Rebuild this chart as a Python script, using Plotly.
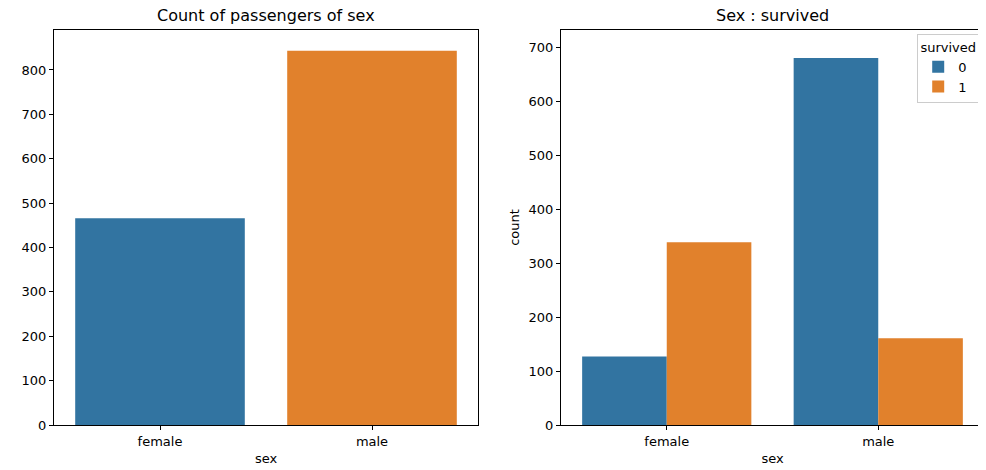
import plotly.graph_objects as go

sexes = ["female", "male"]
counts = [466, 843]
died = [127, 681]
survived = [339, 161]

blue = "#3274a1"
orange = "#e1812c"

fig = go.Figure()
fig.add_trace(go.Bar(x=sexes, y=counts, marker=dict(color=[blue, orange], line_width=0),
                     width=0.8, showlegend=False, xaxis="x", yaxis="y"))
fig.add_trace(go.Bar(x=sexes, y=died, name="0", marker=dict(color=blue, line_width=0),
                     xaxis="x2", yaxis="y2"))
fig.add_trace(go.Bar(x=sexes, y=survived, name="1", marker=dict(color=orange, line_width=0),
                     xaxis="x2", yaxis="y2"))

ax = dict(showline=True, linecolor="black", mirror=True, ticks="outside",
          ticklen=4, tickcolor="black", showgrid=False, zeroline=False,
          automargin=False, tickfont=dict(size=13, color="black"))
yb, yt = 1 - 417 / 470, 1 - 22 / 470

fig.update_layout(
    width=986, height=470, margin=dict(l=0, r=0, t=0, b=0, autoexpand=False),
    plot_bgcolor="white", paper_bgcolor="white",
    font=dict(family="DejaVu Sans", color="black", size=13),
    barmode="group", bargap=0.2, bargroupgap=0,
    xaxis=dict(ax, domain=[46 / 986, 470 / 986], anchor="y",
               title=dict(text="sex", standoff=6, font=dict(size=13))),
    yaxis=dict(ax, domain=[yb, yt], anchor="x", range=[0, 890],
               tickvals=[0, 100, 200, 300, 400, 500, 600, 700, 800]),
    xaxis2=dict(ax, domain=[553 / 986, 976 / 986], anchor="y2",
                title=dict(text="sex", standoff=6, font=dict(size=13))),
    yaxis2=dict(ax, domain=[yb, yt], anchor="x2", range=[0, 733],
                dtick=100, title=dict(text="count", standoff=6, font=dict(size=13))),
    legend=dict(title=dict(text="survived", side="top center", font=dict(size=13)),
                x=0.985, xanchor="right", y=0.945, yanchor="top",
                bordercolor="#cccccc", borderwidth=1,
                bgcolor="rgba(255,255,255,0.8)", font=dict(size=13)),
    annotations=[
        dict(text="Count of passengers of sex", x=258 / 986, y=yt, xanchor="center",
             xref="paper", yref="paper", yanchor="bottom", showarrow=False,
             yshift=3, font=dict(size=16)),
        dict(text="Sex : survived", x=764 / 986, y=yt, xanchor="center",
             xref="paper", yref="paper", yanchor="bottom", showarrow=False,
             yshift=3, font=dict(size=16)),
    ],
)

fig.write_html("out.html")
